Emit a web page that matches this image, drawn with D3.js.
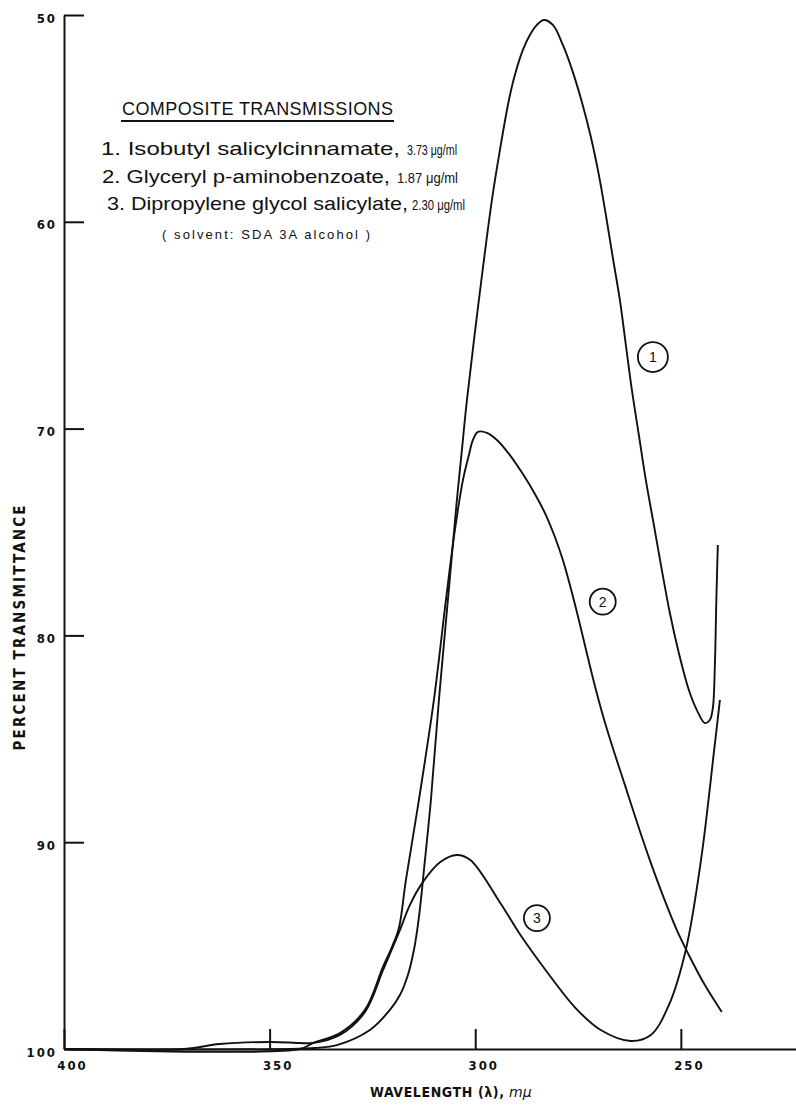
<!DOCTYPE html>
<html><head><meta charset="utf-8">
<script src="https://cdn.jsdelivr.net/npm/d3@7"></script>
<style>body{margin:0;background:#fff} svg{display:block}</style>
</head><body>
<script>
// ---- data ----
const xTicks = [400, 350, 300, 250];
const yTicks = [50, 60, 70, 80, 90, 100];
const seriesNumbers = ["1.", "2.", "3."];
const seriesNames = ["Isobutyl salicylcinnamate", "Glyceryl p-aminobenzoate", "Dipropylene glycol salicylate"];
const seriesConc = ["3.73", "1.87", "2.30"];

// Curve 1: Isobutyl salicylcinnamate
const s1Wl = [400, 345.06, 338.98, 333.63, 325.61, 320.75, 318.31, 316.37, 314.91, 313.94, 313.21, 312.6, 310.78, 308.83, 306.65, 304.46, 303.24, 302.02, 299.11, 295.95, 294.0, 291.81, 290.36, 288.41, 286.71, 285.01, 283.31, 281.12, 278.69, 276.26, 274.07, 271.88, 269.93, 268.23, 266.53, 264.83, 263.37, 261.91, 260.21, 258.51, 256.56, 254.62, 252.67, 250.49, 248.05, 246.11, 244.17, 242.95, 242.22, 241.74, 241.37, 241.01];
const s1T  = [100, 100, 99.95, 99.81, 99.08, 98.11, 97.39, 96.42, 95.21, 94.0, 92.79, 91.59, 87.96, 83.12, 78.29, 73.45, 71.03, 68.62, 63.78, 58.95, 56.53, 54.11, 52.9, 51.69, 50.97, 50.48, 50.24, 50.48, 51.45, 52.76, 54.21, 55.9, 57.74, 59.67, 61.75, 63.78, 65.96, 68.13, 70.31, 72.49, 74.66, 76.84, 78.92, 80.85, 82.64, 83.61, 84.24, 84.09, 83.51, 81.53, 78.29, 75.63];

// Curve 2: Glyceryl p-aminobenzoate
const s2Wl = [400, 342.63, 339.47, 332.9, 326.82, 322.45, 320.26, 318.56, 316.86, 313.7, 310.05, 307.13, 304.94, 302.99, 301.54, 300.56, 299.35, 297.16, 294.73, 291.57, 288.41, 285.49, 282.82, 280.63, 278.69, 276.98, 275.28, 273.34, 271.39, 269.2, 266.77, 263.61, 260.45, 257.29, 254.13, 250.97, 247.81, 244.16, 240.04];
const s2T  = [100, 100, 99.71, 99.23, 98.11, 96.03, 95.07, 94.15, 91.83, 87.96, 83.12, 78.29, 74.9, 72.49, 71.28, 70.55, 70.16, 70.21, 70.55, 71.28, 72.2, 73.16, 74.18, 75.24, 76.35, 77.56, 78.87, 80.46, 82.06, 83.7, 85.3, 87.23, 89.17, 91.01, 92.7, 94.25, 95.55, 96.91, 98.21];

// Curve 3: Dipropylene glycol salicylate
const s3Wl = [400, 370.7, 362.2, 349.8, 342.7, 339.5, 332.9, 326.8, 322.4, 318.5, 315.9, 312.7, 308.5, 304.5, 301.2, 293.9, 289.0, 282.9, 275.6, 269.5, 262.2, 257.3, 252.9, 248.8, 245.1, 241.9, 240.5];
const s3T  = [100, 100, 99.76, 99.66, 99.71, 99.71, 99.32, 98.21, 96.18, 94.34, 93.04, 91.92, 90.96, 90.62, 90.86, 92.94, 94.49, 96.18, 98.02, 99.08, 99.61, 99.32, 97.87, 95.21, 90.86, 85.54, 83.12];

// curve number markers (data coordinates)
const markerWl = [256.8, 269.0, 285.0];
const markerT = [66.54, 78.37, 93.67];
const markerText = ["1", "2", "3"];

// ---- chart ----
const W = 796, H = 1107;
const svg = d3.select("body").append("svg").attr("width", W).attr("height", H);
const x = d3.scaleLinear().domain([400, 222]).range([64, 796]);
const y = d3.scaleLinear().domain([50, 100]).range([15, 1049]);

const numFont = "'DejaVu Sans Condensed','DejaVu Sans',sans-serif";

// y axis
const yAxis = svg.append("g").attr("transform", `translate(${x(400)},0)`)
  .call(d3.axisLeft(y).tickValues(yTicks).tickSize(-20).tickSizeOuter(0).tickPadding(7).tickFormat(d3.format("d")));
yAxis.select(".domain").attr("stroke", "#111").attr("stroke-width", 2);
yAxis.selectAll(".tick line").attr("stroke", "#111").attr("stroke-width", 2);
yAxis.selectAll(".tick text").attr("font-family", numFont).attr("font-weight", "bold")
  .attr("font-size", 13).attr("letter-spacing", "2px").attr("fill", "#111").attr("dy", "0.55em");

// x axis
const xAxis = svg.append("g").attr("transform", `translate(0,${y(100)})`)
  .call(d3.axisBottom(x).tickValues(xTicks).tickSize(-20).tickSizeOuter(0).tickPadding(12).tickFormat(d3.format("d")));
xAxis.select(".domain").attr("stroke", "#111").attr("stroke-width", 2);
xAxis.selectAll(".tick line").attr("stroke", "#111").attr("stroke-width", 2);
xAxis.selectAll(".tick text").attr("font-family", numFont).attr("font-weight", "bold")
  .attr("font-size", 13).attr("letter-spacing", "2px").attr("fill", "#111").attr("x", 8);

// axis titles
svg.append("text").attr("transform", "translate(25,628) rotate(-90)")
  .attr("text-anchor", "middle").attr("font-family", numFont).attr("font-weight", "bold")
  .attr("font-size", 15).attr("textLength", 245).attr("lengthAdjust", "spacing").attr("fill", "#111")
  .text("PERCENT TRANSMITTANCE");

svg.append("text").attr("x", 370).attr("y", 1097)
  .attr("font-family", numFont).attr("font-weight", "bold").attr("font-size", 14).attr("fill", "#111")
  .attr("textLength", 134).attr("lengthAdjust", "spacing").text("WAVELENGTH (λ),");
svg.append("text").attr("x", 509).attr("y", 1097)
  .attr("font-family", "'DejaVu Sans',sans-serif").attr("font-style", "italic").attr("font-size", 14).attr("fill", "#111")
  .text("mμ");

// curves
const line = d3.line().x(d => x(d[0])).y(d => y(d[1])).curve(d3.curveCatmullRom.alpha(0.5));
[[s1Wl, s1T], [s2Wl, s2T], [s3Wl, s3T]].forEach(([wl, t]) => {
  svg.append("path").datum(wl.map((w, i) => [w, t[i]]))
    .attr("d", line).attr("fill", "none").attr("stroke", "#111").attr("stroke-width", 1.9)
    .attr("stroke-linejoin", "round");
});

// markers
markerText.forEach((t, i) => {
  const g = svg.append("g").attr("transform", `translate(${x(markerWl[i])},${y(markerT[i])})`);
  g.append("circle").attr("r", i === 0 ? 15 : 13).attr("fill", "#fff").attr("stroke", "#111").attr("stroke-width", 1.8);
  g.append("text").attr("text-anchor", "middle").attr("dy", "0.36em")
    .attr("font-family", "'Liberation Sans',sans-serif").attr("font-size", 14).attr("fill", "#111").text(t);
});

// legend / title block
const txtFont = "'Liberation Sans','Noto Sans',sans-serif";
svg.append("text").attr("x", 122).attr("y", 115).attr("font-family", txtFont).attr("font-size", 18)
  .attr("textLength", 271).attr("lengthAdjust", "spacing").attr("fill", "#111").text("COMPOSITE TRANSMISSIONS");
svg.append("line").attr("x1", 121).attr("x2", 394).attr("y1", 121).attr("y2", 121)
  .attr("stroke", "#111").attr("stroke-width", 1.8);

const legY = [155, 183, 210];
const nameX = [101, 102, 107];
const nameLen = [299, 288, 301];
const concX = [407, 397, 412];
const concLen = [50, 61, 53];
seriesNames.forEach((n, i) => {
  svg.append("text").attr("x", nameX[i]).attr("y", legY[i]).attr("font-family", txtFont)
    .attr("font-size", 19).attr("textLength", nameLen[i]).attr("lengthAdjust", "spacingAndGlyphs")
    .attr("fill", "#111").text(seriesNumbers[i] + " " + n + ",");
  svg.append("text").attr("x", concX[i]).attr("y", legY[i]).attr("font-family", txtFont)
    .attr("font-size", 14).attr("textLength", concLen[i]).attr("lengthAdjust", "spacingAndGlyphs")
    .attr("fill", "#111").text(seriesConc[i] + " μg/ml");
});
svg.append("text").attr("x", 162).attr("y", 239).attr("font-family", txtFont).attr("font-size", 13)
  .attr("textLength", 208).attr("lengthAdjust", "spacing").attr("fill", "#111").text("( solvent:  SDA 3A alcohol )");
</script>
</body></html>
